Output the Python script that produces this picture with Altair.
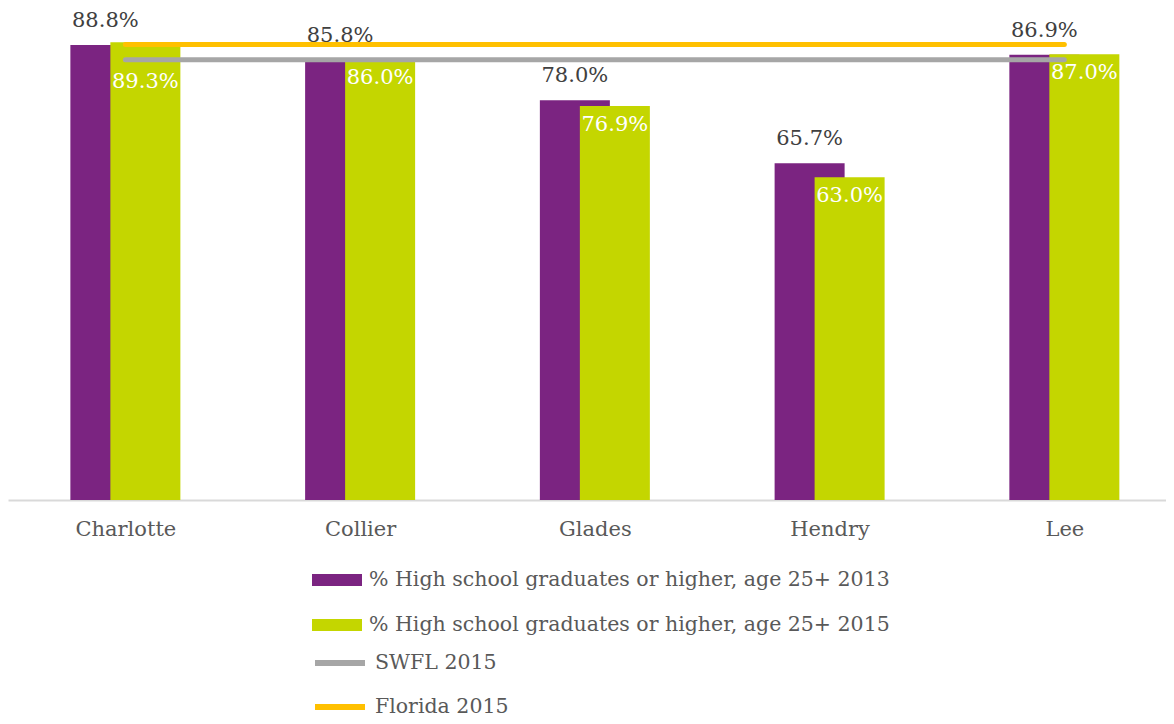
import json
import altair as alt
import pandas as pd

counties = ["Charlotte", "Collier", "Glades", "Hendry", "Lee"]
hs_2013 = [88.8, 85.8, 78.0, 65.7, 86.9]
hs_2015 = [89.3, 86.0, 76.9, 63.0, 87.0]
label_2013 = "% High school graduates or higher, age 25+ 2013"
label_2015 = "% High school graduates or higher, age 25+ 2015"
ref_names = ["SWFL 2015", "Florida 2015"]
ref_values = [85.9, 88.9]

FONT = "DejaVu Serif"
PURPLE, LIME, GRAY, GOLD = "#7B2481", "#C4D600", "#A6A6A6", "#FFC000"
W, H = 1158, 492
n = len(counties)
positions = list(range(n))

bars = pd.DataFrame({
    "county": counties * 2,
    "pos": positions * 2,
    "value": hs_2013 + hs_2015,
    "series": [label_2013] * n + [label_2015] * n,
})
lines = pd.DataFrame({
    "pos": [positions[0], positions[-1]] * len(ref_names),
    "value": [v for v in ref_values for _ in range(2)],
    "series": [nm for nm in ref_names for _ in range(2)],
})

# category slots; the last slot runs past the right edge of the plot
x = alt.X(
    "pos:Q",
    scale=alt.Scale(domain=[-0.5, n - 0.567], nice=False, zero=False, padding=0),
    axis=alt.Axis(title=None, values=positions, labelExpr=f"{json.dumps(counties)}[datum.value]",
                  labelAngle=0, ticks=False, grid=False, labelFlush=False, labelOverlap=False,
                  domainColor="#D9D9D9", domainWidth=2,
                  labelFont=FONT, labelFontSize=21, labelColor="#595959",
                  labelPadding=18),
)
y = alt.Y("value:Q", scale=alt.Scale(domain=[0, 96]), axis=None)

legend_common = dict(
    title=None, orient="none", direction="vertical", symbolSize=2500,
    symbolOpacity=1, clipHeight=20, labelOffset=7, padding=0,
    labelFont=FONT, labelFontSize=20.5, labelColor="#595959", labelLimit=800,
)
fill = alt.Fill(
    "series:N",
    scale=alt.Scale(domain=[label_2013, label_2015], range=[PURPLE, LIME]),
    legend=alt.Legend(legendX=304, legendY=562, rowPadding=24,
                      symbolType="M-1,-0.24H1V0.24H-1Z", symbolStrokeWidth=0, **legend_common),
)
stroke = alt.Stroke(
    "series:N",
    scale=alt.Scale(domain=ref_names, range=[GRAY, GOLD]),
    legend=alt.Legend(legendX=304, legendY=645, rowPadding=23,
                      symbolType="stroke", symbolStrokeWidth=6, **legend_common),
)

swfl = ref_values[0]
base = alt.Chart(bars).transform_calculate(
    label="format(datum.value, '.1f') + '%'",
    # inner labels that would collide with the SWFL line are moved just below it
    label_y=f"(datum.value - {swfl} > 2) ? {swfl} - 0.6 : datum.value",
)
b13 = base.transform_filter(alt.datum.series == label_2013)
b15 = base.transform_filter(alt.datum.series == label_2015)

bar13 = b13.mark_bar(size=70, xOffset=-20).encode(x=x, y=y, fill=fill)
bar15 = b15.mark_bar(size=70, xOffset=20).encode(x=x, y=y, fill=fill)
ref = alt.Chart(lines).mark_line(strokeWidth=5, strokeCap="round").encode(
    x=x, y=y, stroke=stroke, detail="series:N"
)
txt13 = b13.mark_text(xOffset=-20, dy=-24, baseline="middle", align="center",
                      font=FONT, fontSize=21, fill="#404040").encode(x=x, y=y, text="label:N")
txt15 = b15.mark_text(xOffset=20, dy=19, baseline="middle", align="center",
                      font=FONT, fontSize=21, fill="#FFFFFF").encode(
    x=x, y=alt.Y("label_y:Q", scale=alt.Scale(domain=[0, 96]), axis=None), text="label:N")

chart = alt.layer(bar13, bar15, ref, txt13, txt15).properties(
    width=W, height=H,
    autosize=alt.AutoSizeParams(type="none"),
    padding={"left": 0, "right": 0, "top": 0, "bottom": 216},
).configure_view(stroke=None)

chart.save("out.html", embed_options={"renderer": "svg", "actions": False})
